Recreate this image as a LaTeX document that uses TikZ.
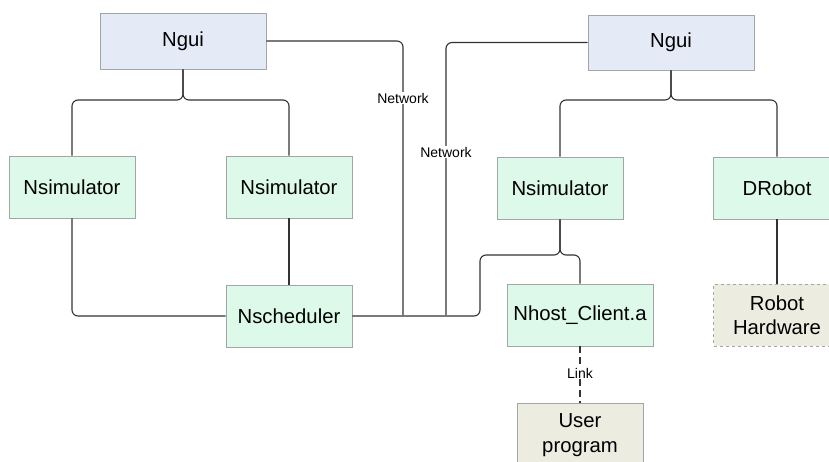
\documentclass[tikz,border=0pt]{standalone}
\usepackage{fontspec}
\setmainfont{Liberation Sans}
\definecolor{guifill}{HTML}{E5EBF6}
\definecolor{greenfill}{HTML}{DDF9EA}
\definecolor{beige}{HTML}{ECECE1}
\definecolor{boxline}{HTML}{A2A6A6}
\definecolor{conn}{HTML}{333333}
\begin{document}
\begin{tikzpicture}[x=1pt,y=-1pt,
  box/.style={draw=boxline,line width=0.8pt,minimum width=126pt,minimum height=62pt,inner sep=0pt,
    font=\fontsize{20.3}{24.5}\selectfont,align=center},
  guibox/.style={box,fill=guifill,minimum width=166pt,minimum height=56pt},
  grbox/.style={box,fill=greenfill},
  bgbox/.style={box,fill=beige},
  wire/.style={draw=conn,line width=1.1pt,rounded corners=6pt},
  lbl/.style={fill=white,inner sep=1pt,font=\fontsize{14}{16}\selectfont}]
\useasboundingbox[fill=white] (0,0) rectangle (829,461);
% nodes
\node[guibox] (gui1) at (183,41) {Ngui};
\node[guibox,minimum height=55pt] (gui2) at (671,42.5) {Ngui};
\node[grbox] (sim1) at (72,187) {Nsimulator};
\node[grbox] (sim2) at (289,187) {Nsimulator};
\node[grbox] (sched) at (289,316) {Nscheduler};
\node[grbox] (sim3) at (560,188) {Nsimulator};
\node[grbox,minimum width=127pt] (drobot) at (777,188) {DRobot};
\node[grbox,minimum width=146pt] (nhost) at (580,315) {Nhost\_Client.a};
\node[bgbox,dashed,minimum width=127pt] (hw) at (777,315) {Robot\\Hardware};
\node[bgbox,minimum height=64pt] (user) at (580,435) {User\\program};
% connectors
\coordinate (b1) at (183,100);
\coordinate (b2) at (671,100);
\draw[wire] (gui1.south) -- (b1) -| (sim1.north);
\draw[wire] (gui1.south) -- (b1) -| (sim2.north);
\draw[wire] (gui2.south) -- (b2) -| (sim3.north);
\draw[wire] (gui2.south) -- (b2) -| (drobot.north);
\draw[wire] (sim2.south) -- (sched.north);
\draw[wire] (sim1.south) |- (sched.west);
\draw[wire] (drobot.south) -- (hw.north);
\coordinate (b3) at (560,255);
\coordinate (c3) at (480,255);
\draw[wire] (sim3.south) -- (b3) -| (nhost.north);
\draw[wire] (sim3.south) -- (b3) -- (c3) |- (sched.east);
\coordinate (n1) at (403,315);
\coordinate (n2) at (446,315);
\draw[wire] (gui1.east) -| (n1);
\draw[wire] (gui2.west) -| (n2);
\draw[conn,line width=1.1pt,dash pattern=on 7pt off 4pt] (nhost.south) -- (user.north);
% labels
\node[lbl] (l1) at (403,98) {Network};
\node[lbl] (l2) at (446,152) {Network};
\node[lbl] (l3) at (580,373) {Link};
\end{tikzpicture}
\end{document}
